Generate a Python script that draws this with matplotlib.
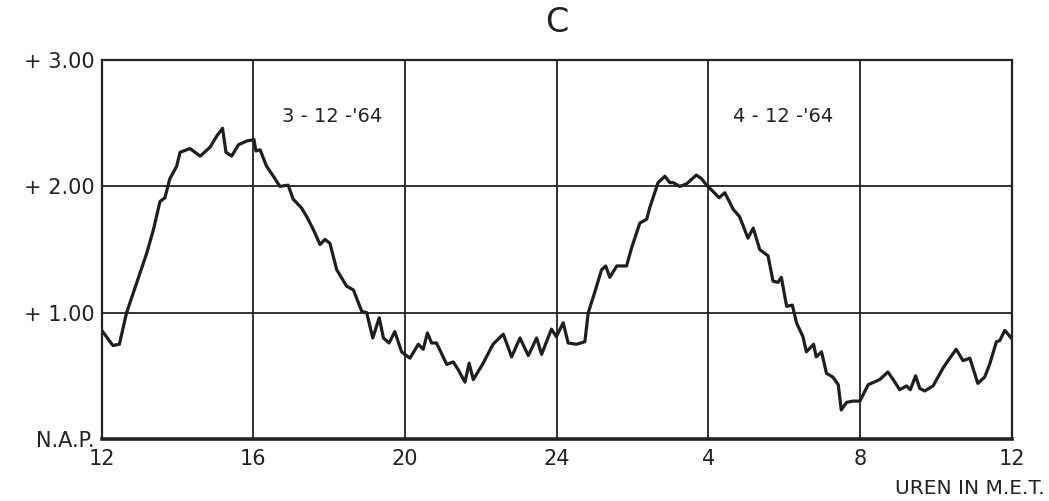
import matplotlib.pyplot as plt

# hours after 12:00 on 3-12-'64, water level in m relative to N.A.P.
hours = [0.03, 0.30, 0.47, 0.66, 0.93, 1.19, 1.37, 1.54, 1.67, 1.80, 1.98, 2.07,
         2.33, 2.60, 2.86, 3.04, 3.19, 3.28, 3.43, 3.61, 3.83, 4.02, 4.07, 4.18,
         4.35, 4.53, 4.70, 4.92, 5.05, 5.27, 5.41, 5.58, 5.76, 5.89, 6.02, 6.20,
         6.46, 6.64, 6.86, 6.99, 7.15, 7.32, 7.43, 7.58, 7.73, 7.91, 8.13, 8.35,
         8.48, 8.59, 8.70, 8.83, 9.10, 9.27, 9.40, 9.58, 9.69, 9.80, 10.06, 10.32,
         10.59, 10.81, 11.03, 11.25, 11.47, 11.60, 11.86, 11.99, 12.17, 12.30,
         12.52, 12.74, 12.83, 13.00, 13.18, 13.29, 13.40, 13.58, 13.84, 13.97,
         14.19, 14.37, 14.45, 14.67, 14.85, 14.98, 15.07, 15.24, 15.42, 15.68,
         15.82, 15.95, 16.12, 16.28, 16.43, 16.65, 16.82, 17.04, 17.18, 17.35,
         17.57, 17.70, 17.83, 17.92, 18.06, 18.21, 18.32, 18.49, 18.58, 18.77,
         18.84, 18.98, 19.11, 19.28, 19.42, 19.50, 19.64, 19.81, 19.99, 20.21,
         20.51, 20.73, 20.87, 21.04, 21.22, 21.32, 21.46, 21.57, 21.70, 21.92,
         22.18, 22.36, 22.53, 22.71, 22.89, 23.10, 23.28, 23.41, 23.59, 23.68,
         23.81, 23.98]
level = [0.85, 0.74, 0.75, 1.00, 1.24, 1.47, 1.66, 1.88, 1.91, 2.06, 2.16, 2.27,
         2.30, 2.24, 2.31, 2.40, 2.46, 2.27, 2.24, 2.33, 2.36, 2.37, 2.28, 2.29,
         2.16, 2.08, 2.00, 2.01, 1.90, 1.83, 1.76, 1.66, 1.54, 1.58, 1.55, 1.34,
         1.21, 1.18, 1.01, 1.00, 0.80, 0.96, 0.80, 0.76, 0.85, 0.69, 0.64, 0.75,
         0.71, 0.84, 0.76, 0.76, 0.59, 0.61, 0.55, 0.45, 0.60, 0.47, 0.60, 0.75,
         0.83, 0.65, 0.80, 0.66, 0.80, 0.67, 0.87, 0.81, 0.92, 0.76,
         0.75, 0.77, 1.00, 1.16, 1.34, 1.37, 1.28, 1.37, 1.37, 1.51,
         1.71, 1.74, 1.83, 2.03, 2.08, 2.03, 2.03, 2.00, 2.02, 2.09,
         2.06, 2.01, 1.96, 1.91, 1.95, 1.82, 1.76, 1.59, 1.67, 1.50,
         1.45, 1.25, 1.24, 1.28, 1.05, 1.06, 0.92, 0.81, 0.69, 0.75,
         0.65, 0.69, 0.52, 0.49, 0.43, 0.23, 0.29, 0.30, 0.30, 0.43,
         0.47, 0.53, 0.47, 0.39, 0.42, 0.39, 0.50, 0.40, 0.38, 0.42,
         0.56, 0.64, 0.71, 0.62, 0.64, 0.44, 0.49, 0.59, 0.77, 0.78,
         0.86, 0.80]

x_ticks = [0, 4, 8, 12, 16, 20, 24]
x_labels = ["12", "16", "20", "24", "4", "8", "12"]
y_ticks = [0, 1, 2, 3]
y_labels = ["N.A.P.", "+ 1.00", "+ 2.00", "+ 3.00"]
dates = ["3 - 12 -'64", "4 - 12 -'64"]
date_pos = [(6.07, 2.55), (17.96, 2.55)]


def main():
    fig = plt.figure(figsize=(10.49, 5.01), dpi=100)
    ax = fig.add_axes([0.0968, 0.1238, 0.8679, 0.7562])

    ax.plot(hours, level, color="#1e1e1e", linewidth=2.3)

    ax.set_xlim(0, 24)
    ax.set_ylim(0, 3)
    ax.set_xticks(x_ticks)
    ax.set_xticklabels(x_labels, fontsize=15)
    ax.set_yticks(y_ticks)
    ax.set_yticklabels(y_labels, fontsize=15)
    ax.tick_params(length=0, colors="#222222")
    ax.tick_params(axis="x", pad=7)
    ax.tick_params(axis="y", pad=5)
    ax.grid(True, color="#222222", linewidth=1.3)

    for s in ax.spines.values():
        s.set_linewidth(1.6)
        s.set_color("#222222")
    ax.spines["bottom"].set_linewidth(2.6)

    for d, (x, y) in zip(dates, date_pos):
        ax.text(x, y, d, fontsize=14, ha="center", va="center", color="#222222")

    fig.text(0.531, 0.955, "C", fontsize=24, ha="center", va="center", color="#222222")
    fig.text(0.996, 0.024, "UREN IN M.E.T.", fontsize=14.5, ha="right", va="center",
             color="#222222")

    plt.savefig("out.png", dpi=100)


if __name__ == "__main__":
    main()
